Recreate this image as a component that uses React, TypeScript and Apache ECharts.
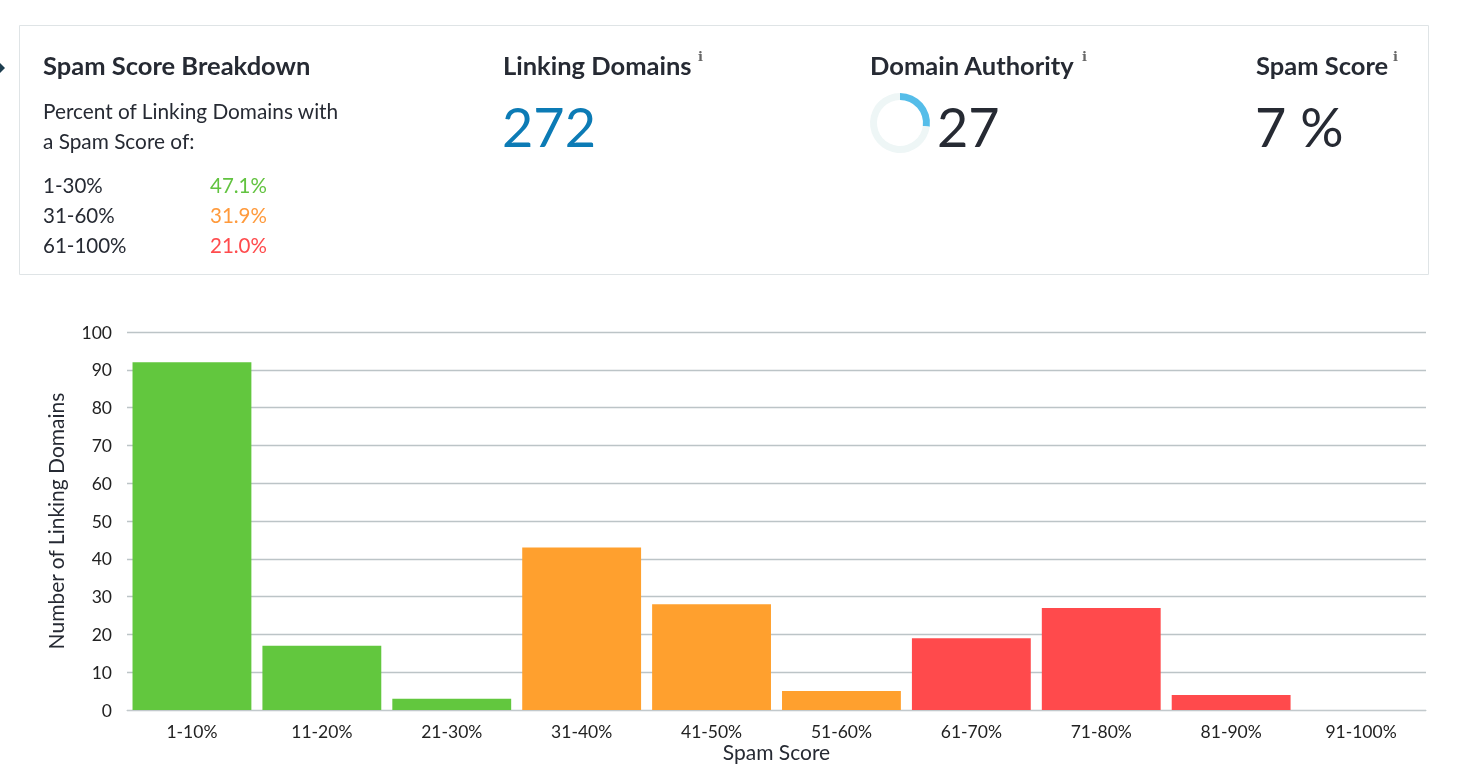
import React, { useEffect, useRef } from "react";
import * as echarts from "echarts";

const categories = ["1-10%", "11-20%", "21-30%", "31-40%", "41-50%", "51-60%", "61-70%", "71-80%", "81-90%", "91-100%"];
const linkingDomainCounts = [92, 17, 3, 43, 28, 5, 19, 27, 4, 0];
const bandOfCategory = ["low", "low", "low", "mid", "mid", "mid", "high", "high", "high", "high"];
const yTicks = [0, 10, 20, 30, 40, 50, 60, 70, 80, 90, 100];
const breakdownLabels = ["1-30%", "31-60%", "61-100%"];
const breakdownValues = ["47.1%", "31.9%", "21.0%"];
const linkingDomainsTotal = "272";
const domainAuthority = 27;
const spamScore = "7 %";

const bandColors: Record<string, string> = { low: "#62c73e", mid: "#ffa02e", high: "#ff4a4c" };
const breakdownColors = ["#62c340", "#ff9a3c", "#ff4b4d"];
const DARK = "#262a33";
const FONT = "Lato, 'Open Sans', sans-serif";

export default function App() {
  const ref = useRef<HTMLDivElement>(null);
  useEffect(() => {
    if (!ref.current) return;
    const chart = echarts.init(ref.current, undefined, { renderer: "svg" });
    const txt = (text: string, x: number, y: number, size: number, fill: string, weight: string = "normal") => ({
      type: "text",
      x,
      y,
      silent: true,
      style: { text, fill, font: `${weight} ${size}px ${FONT}`, verticalAlign: "middle", align: "left" },
    });
    const sup = (x: number, y: number) => ({
      type: "text",
      x,
      y,
      silent: true,
      style: { text: "i", fill: "#666", font: `bold 13px 'DejaVu Serif', serif`, verticalAlign: "middle", align: "left" },
    });
    const graphic: any[] = [
      {
        type: "rect",
        shape: { x: 19.5, y: 25.5, width: 1409, height: 249 },
        style: { fill: "#fff", stroke: "#dfe4e6", lineWidth: 1 },
        silent: true,
      },
      { type: "polygon", shape: { points: [[0, 63], [5, 68], [0, 73]] }, style: { fill: "#1d3d4f" }, silent: true },
      txt("Spam Score Breakdown", 43, 65, 25.5, DARK, "bold"),
      txt("Percent of Linking Domains with", 43, 110, 20.8, DARK),
      txt("a Spam Score of:", 43, 140, 20.8, DARK),
      txt("Linking Domains", 503, 65, 25.5, DARK, "bold"),
      sup(698, 56),
      txt(linkingDomainsTotal, 502, 126, 54, "#0c7bb5"),
      txt("Domain Authority", 870, 65, 25.5, DARK, "bold"),
      sup(1082, 56),
      txt(String(domainAuthority), 937, 126, 54, DARK),
      txt("Spam Score", 1256, 65, 25.5, DARK, "bold"),
      sup(1393, 56),
      txt(spamScore, 1255, 126, 54, DARK),
    ];
    breakdownLabels.forEach((l, i) => {
      graphic.push(txt(l, 43, 185 + i * 30, 20.5, DARK));
      graphic.push(txt(breakdownValues[i], 210, 185 + i * 30, 20.5, breakdownColors[i]));
    });

    chart.setOption({
      animation: false,
      textStyle: { fontFamily: FONT },
      graphic,
      grid: { left: 127, right: 40, top: 332, bottom: 70 },
      xAxis: {
        type: "category",
        data: categories,
        name: "Spam Score",
        nameLocation: "middle",
        nameGap: 25,
        nameTextStyle: { fontSize: 21, color: DARK, fontFamily: FONT },
        axisLine: { lineStyle: { color: "#c2c9cc", width: 1 } },
        axisTick: { show: false },
        axisLabel: { fontSize: 17.5, color: "#222", margin: 12, fontFamily: FONT },
      },
      yAxis: {
        type: "value",
        min: yTicks[0],
        max: yTicks[yTicks.length - 1],
        interval: yTicks[1] - yTicks[0],
        name: "Number of Linking Domains",
        nameLocation: "middle",
        nameGap: 61,
        nameTextStyle: { fontSize: 21, color: DARK, fontFamily: FONT },
        axisLine: { show: false },
        axisTick: { show: false },
        axisLabel: { fontSize: 17.5, color: "#222", margin: 15, fontFamily: FONT },
        splitLine: { lineStyle: { color: "#bcc4c7", width: 1.3 } },
      },
      series: [
        {
          type: "bar",
          barCategoryGap: "8.5%",
          silent: true,
          data: linkingDomainCounts.map((v, i) => ({ value: v, itemStyle: { color: bandColors[bandOfCategory[i]] } })),
        },
        {
          type: "pie",
          silent: true,
          center: [900, 123],
          radius: [23, 30],
          startAngle: 90,
          clockwise: true,
          label: { show: false },
          labelLine: { show: false },
          data: [
            { value: domainAuthority, itemStyle: { color: "#55bde9" } },
            { value: 100 - domainAuthority, itemStyle: { color: "#eef6f6" } },
          ],
        },
      ],
    });
    return () => chart.dispose();
  }, []);
  return <div ref={ref} style={{ position: "fixed", left: 0, top: 0, width: 1466, height: 780 }} />;
}
